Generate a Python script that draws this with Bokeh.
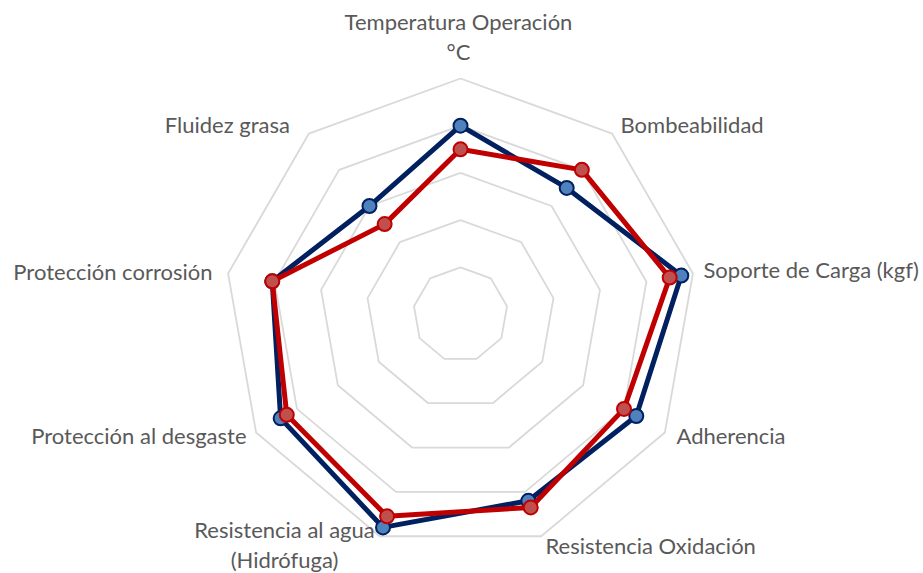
import numpy as np
from bokeh.plotting import figure
from bokeh.models import Range1d
from bokeh.embed import file_html
from bokeh.resources import INLINE
from bokeh.core.properties import value

# ---------------- data ----------------
categories = ["Temperatura Operación\n°C", "Bombeabilidad", "Soporte de Carga (kgf)",
              "Adherencia", "Resistencia Oxidación", "Resistencia al agua\n(Hidrófuga)",
              "Protección al desgaste", "Protección corrosión", "Fluidez  grasa"]
serie_azul = [8.0, 7.0, 9.5, 8.6, 8.4, 9.6, 8.8, 8.1, 6.0]
serie_roja = [7.0, 8.0, 9.0, 8.0, 8.7, 9.1, 8.5, 8.1, 5.0]
grid_levels = [2, 4, 6, 8, 10]

# ---------------- layout ----------------
W, H = 923, 573
CX, CY = 460, 314          # centre in figure pixels
S = 23.6                   # pixels per value unit

def px(fx, fy):
    return (fx - CX) / S, (CY - fy) / S

n = len(categories)
theta = np.deg2rad(90 - 360.0 / n * np.arange(n))

def polar(vals):
    v = np.asarray(vals, dtype=float)
    x = v * np.cos(theta)
    y = v * np.sin(theta)
    return list(np.append(x, x[0])), list(np.append(y, y[0]))

p = figure(width=W, height=H, output_backend="svg", toolbar_location=None,
           x_range=Range1d(-CX / S, (W - CX) / S), y_range=Range1d((CY - H) / S, CY / S),
           min_border=0)
p.axis.visible = False
p.grid.visible = False
p.outline_line_color = None
p.background_fill_color = "white"
p.border_fill_color = "white"

for lv in grid_levels:
    gx, gy = polar([lv] * n)
    p.line(gx, gy, line_color="#D9D9D9", line_width=1.8)

bx, by = polar(serie_azul)
p.line(bx, by, line_color="#002060", line_width=5, line_join="round")
p.scatter(bx[:-1], by[:-1], size=14, fill_color="#4F81BD", line_color="#002060", line_width=2)

rx, ry = polar(serie_roja)
p.line(rx, ry, line_color="#C00000", line_width=5, line_join="round")
p.scatter(rx[:-1], ry[:-1], size=14, fill_color="#C0504D", line_color="#C00000", line_width=2)

# label placement (pixel anchor of first line, alignment)
label_pos = [(458, 21, "center"), (620, 124, "left"), (703, 269, "left"),
             (676, 435, "left"), (545, 545, "left"), (284, 529, "center"),
             (246, 435, "right"), (212, 271, "right"), (295, 124, "right")]
LINE = 30
for cat, (lx, ly, al) in zip(categories, label_pos):
    for i, line in enumerate(cat.split("\n")):
        x, y = px(lx, ly + i * LINE)
        p.text([x], [y], text=[line], text_align=al, text_baseline="alphabetic",
               text_font=value("Lato"), text_font_size="22px", text_color="#595959")

open("out.html", "w").write(file_html(p, INLINE))
